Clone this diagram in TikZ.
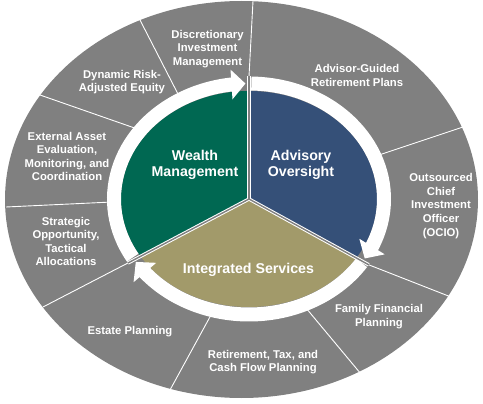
\documentclass[tikz,border=0pt]{standalone}
\usepackage{fontspec}
\setmainfont{Liberation Sans}
\usetikzlibrary{arrows.meta, bending}
\definecolor{wmgreen}{RGB}{0,104,82}
\definecolor{advblue}{RGB}{53,80,120}
\definecolor{intolive}{RGB}{162,154,106}
\definecolor{ringgray}{RGB}{128,128,128}

\begin{document}
\begin{tikzpicture}[
    x=1pt, y=1pt,
    seg/.style={draw=white, line width=0.9pt},
    gapedge/.style={draw=white, line width=3.4pt},
    gapcore/.style={draw=ringgray, line width=1.4pt},
    flow/.style={draw=white, line width=14pt,
                 -{Triangle[length=14pt, width=29pt]}},
    lbl/.style={text=white, font=\fontsize{11.3}{13.6}\selectfont\bfseries,
                align=center, inner sep=0pt},
    hub/.style={text=white, font=\fontsize{14.2}{16}\selectfont\bfseries,
                align=center, inner sep=0pt},
  ]
  \useasboundingbox (0,0) rectangle (483,-404);
  % ---- outer ring ----
  \fill[ringgray] (241.5,-199.5) ellipse [x radius=236.5, y radius=198.5];
  \coordinate (c) at (249,-199);
  \path (c) ++(90:142 and 122.5)    coordinate (pa);
  \path (c) ++(211.5:142 and 122.5) coordinate (pb);
  \path (c) ++(-32.5:142 and 122.5) coordinate (pc);
  % ---- separators of the outer ring ----
  \draw[seg] (pa) -- (253,-1);
  \draw[seg] (140,-20)  -- (179,-96);
  \draw[seg] (40,-95)   -- (136,-128.5);
  \draw[seg] (6,-207)   -- (112,-202);
  \draw[seg] (pb) -- (43,-307);
  \draw[seg] (170,-390) -- (211,-315);
  \draw[seg] (361,-374) -- (306,-308);
  \draw[seg] (pc) -- (451,-297);
  \draw[seg] (463,-127) -- (379,-155);
  % ---- centre sectors ----
  \fill[wmgreen]  (c) -- ++(90:128 and 108)
      arc[start angle=90, end angle=211.5, x radius=128, y radius=108] -- cycle;
  \fill[advblue]  (c) -- ++(-32.5:128 and 108)
      arc[start angle=-32.5, end angle=90, x radius=128, y radius=108] -- cycle;
  \fill[intolive] (c) -- ++(211.5:128 and 108)
      arc[start angle=211.5, end angle=327.5, x radius=128, y radius=108] -- cycle;
  % ---- cycle arrows ----
  \draw[flow] (c) ++(210.5:135 and 115.5)
      arc[start angle=210.5, end angle=91.5, x radius=135, y radius=115.5];
  \draw[flow] (c) ++(89:135 and 115.5)
      arc[start angle=89, end angle=-31, x radius=135, y radius=115.5];
  \draw[flow] (c) ++(326.5:135 and 115.5)
      arc[start angle=326.5, end angle=213, x radius=135, y radius=115.5];
  % ---- gaps between the sectors ----
  \foreach \p in {pa,pb,pc} \draw[gapedge] (c) -- (\p);
  \foreach \p in {pa,pb,pc} \draw[gapcore] (c) -- (\p);
  % ---- labels ----
  \node[lbl] (discr)     at (207.5,-49)  {Discretionary\\Investment\\Management};
  \node[lbl] (dynrisk)   at (122,-82)    {Dynamic Risk-\\Adjusted Equity};
  \node[lbl] (extasset)  at (67,-156.5)  {External Asset\\Evaluation,\\Monitoring, and\\Coordination};
  \node[lbl] (strat)     at (66,-241.5)  {Strategic\\Opportunity,\\Tactical\\Allocations};
  \node[lbl] (estate)    at (130,-332)   {Estate Planning};
  \node[lbl] (retire)    at (263,-362)   {Retirement, Tax, and\\Cash Flow Planning};
  \node[lbl] (family)    at (379,-316.5) {Family Financial\\Planning};
  \node[lbl] (ocio)      at (441,-206)   {Outsourced\\Chief\\Investment\\Officer\\(OCIO)};
  \node[lbl] (advguided) at (357,-75.5)  {Advisor-Guided\\Retirement Plans};
  \node[hub] (wealth)     at (195,-165)  {Wealth\\Management};
  \node[hub] (advisory)   at (301,-165)  {Advisory\\Oversight};
  \node[hub] (integrated) at (248.5,-270) {Integrated Services};
\end{tikzpicture}
\end{document}
